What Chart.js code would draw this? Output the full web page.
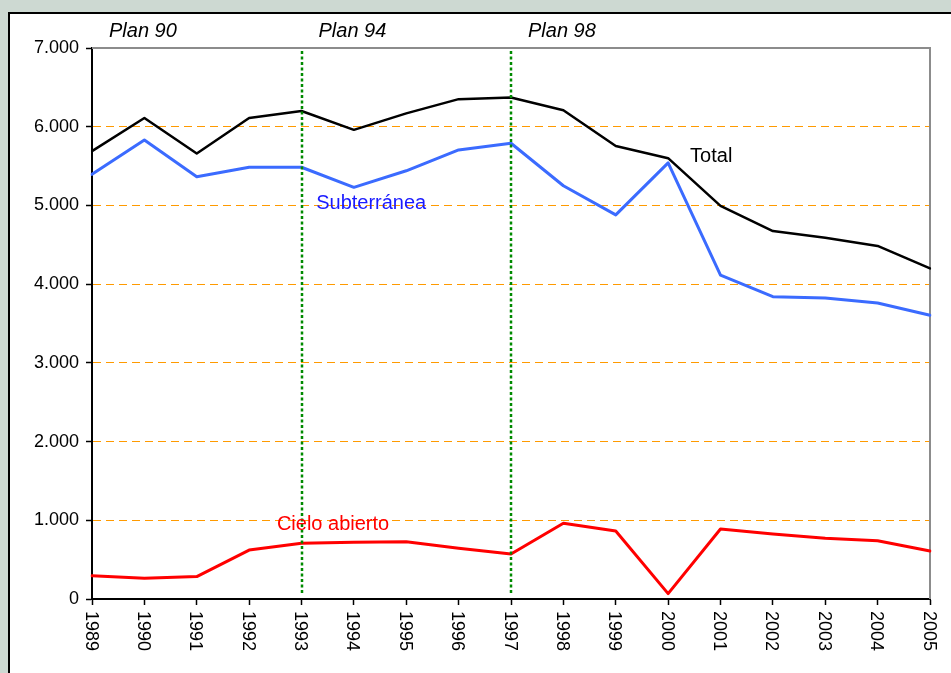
<!DOCTYPE html>
<html>
<head>
<meta charset="utf-8">
<script src="https://cdn.jsdelivr.net/npm/chart.js@4/dist/chart.umd.min.js"></script>
<style>
  html, body { margin: 0; padding: 0; background: #cdd9d2; }
  canvas { display: block; }
</style>
</head>
<body>
<canvas id="c" width="951" height="673"></canvas>
<script>
// Producción por año (miles de toneladas)
const years = ['1989','1990','1991','1992','1993','1994','1995','1996','1997',
               '1998','1999','2000','2001','2002','2003','2004','2005'];
const total        = [5690, 6110, 5660, 6110, 6200, 5960, 6170, 6350, 6370, 6210, 5755, 5600, 4995, 4675, 4590, 4485, 4200];
const subterranea  = [5395, 5830, 5365, 5485, 5485, 5230, 5440, 5705, 5790, 5250, 4880, 5540, 4115, 3840, 3825, 3760, 3605];
const cieloAbierto = [ 295,  265,  285,  622,  707,  720,  727,  644,  572,  962,  864,   68,  889,  826,  771,  741,  610];
const yTickLabels  = ['0', '1.000', '2.000', '3.000', '4.000', '5.000', '6.000', '7.000'];
const seriesNames  = ['Total', 'Subterránea', 'Cielo abierto'];
const planNames    = ['Plan 90', 'Plan 94', 'Plan 98'];
const planStarts   = ['1989', '1993', '1997'];

const FONT = '"Liberation Sans", Arial, sans-serif';

// Page frame: grey-green margin with a white panel outlined in black
const framePlugin = {
  id: 'frame',
  beforeDraw(chart) {
    const ctx = chart.ctx;
    ctx.save();
    ctx.fillStyle = '#cdd9d2';
    ctx.fillRect(0, 0, chart.width, chart.height);
    ctx.fillStyle = '#ffffff';
    ctx.fillRect(9, 13, chart.width, chart.height);
    ctx.strokeStyle = '#000000';
    ctx.lineWidth = 2;
    ctx.strokeRect(9, 13, chart.width + 10, chart.height + 10);
    ctx.restore();
  },
  beforeDatasetsDraw(chart) {
    // grey top and right edges of the plot area
    const {ctx, chartArea: a} = chart;
    ctx.save();
    ctx.strokeStyle = '#8c8c8c';
    ctx.lineWidth = 2;
    ctx.beginPath();
    ctx.moveTo(a.left, a.top);
    ctx.lineTo(a.right, a.top);
    ctx.lineTo(a.right, a.bottom);
    ctx.stroke();
    ctx.restore();
  }
};

// Plan boundaries, plan titles, series names and rotated year labels
const annotatePlugin = {
  id: 'annotate',
  afterDatasetsDraw(chart) {
    const {ctx, chartArea: a, scales: {x, y}} = chart;
    ctx.save();

    // dotted green boundaries at the start of Plan 94 and Plan 98
    ctx.strokeStyle = '#008a00';
    ctx.lineWidth = 2.5;
    ctx.setLineDash([3, 2.5]);
    planStarts.slice(1).forEach(yr => {
      const px = Math.round(x.getPixelForValue(years.indexOf(yr)));
      ctx.beginPath();
      ctx.moveTo(px, a.top + 3);
      ctx.lineTo(px, a.bottom - 6);
      ctx.stroke();
    });
    ctx.setLineDash([]);

    // plan titles above the plot
    ctx.fillStyle = '#000000';
    ctx.font = 'italic 20px ' + FONT;
    ctx.textAlign = 'left';
    ctx.textBaseline = 'alphabetic';
    planNames.forEach((name, i) => {
      const px = x.getPixelForValue(years.indexOf(planStarts[i]));
      ctx.fillText(name, px + 17, a.top - 11);
    });

    // series names next to their lines
    ctx.font = '20px ' + FONT;
    const tags = [
      {text: seriesNames[0], color: '#000000', xi: 11.42, v: 5552},
      {text: seriesNames[1], color: '#1a1aff', xi: 4.28,  v: 4960},
      {text: seriesNames[2], color: '#ff0000', xi: 3.53,  v: 877}
    ];
    tags.forEach(t => {
      ctx.fillStyle = t.color;
      ctx.fillText(t.text, x.getPixelForValue(t.xi), y.getPixelForValue(t.v));
    });

    // year labels, rotated clockwise
    ctx.fillStyle = '#000000';
    ctx.font = '18px ' + FONT;
    ctx.textAlign = 'left';
    ctx.textBaseline = 'middle';
    years.forEach((yr, i) => {
      const px = x.getPixelForValue(i);
      ctx.save();
      ctx.translate(px, a.bottom + 12);
      ctx.rotate(Math.PI / 2);
      ctx.fillText(yr, 0, 1.5);
      ctx.restore();
    });
    ctx.restore();
  }
};

new Chart(document.getElementById('c'), {
  type: 'line',
  data: {
    labels: years,
    datasets: [
      {label: seriesNames[0], data: total,        borderColor: '#000000', borderWidth: 2.5},
      {label: seriesNames[1], data: subterranea,  borderColor: '#3b6bff', borderWidth: 3},
      {label: seriesNames[2], data: cieloAbierto, borderColor: '#ff0000', borderWidth: 3}
    ]
  },
  options: {
    responsive: false,
    animation: false,
    devicePixelRatio: 1,
    layout: {padding: {left: 0, top: 48, right: 21, bottom: 0}},
    elements: {
      point: {radius: 0},
      line: {tension: 0, fill: false, borderCapStyle: 'round', borderJoinStyle: 'round'}
    },
    plugins: {legend: {display: false}, tooltip: {enabled: false}},
    scales: {
      x: {
        offset: false,
        ticks: {display: false},
        grid: {
          offset: false,
          drawOnChartArea: false,
          drawTicks: true,
          tickLength: 6,
          tickColor: '#000000',
          tickWidth: 1.5
        },
        border: {display: true, color: '#000000', width: 2},
        afterFit(scale) { scale.height = 74; }
      },
      y: {
        min: 0,
        max: 7000,
        ticks: {
          stepSize: 1000,
          padding: 7,
          color: '#000000',
          font: {family: FONT, size: 18},
          callback: v => yTickLabels[Math.round(v / 1000)]
        },
        grid: {
          color: c => (c.tick && (c.tick.value === 0 || c.tick.value === 7000)) ? 'rgba(0,0,0,0)' : '#ff9a00',
          lineWidth: 1,
          drawTicks: true,
          tickLength: 6,
          tickColor: '#000000',
          tickWidth: 1.5
        },
        border: {display: true, color: '#000000', width: 2, dash: [8, 5]},
        afterFit(scale) { scale.width = 92; }
      }
    }
  },
  plugins: [framePlugin, annotatePlugin]
});
</script>
</body>
</html>
